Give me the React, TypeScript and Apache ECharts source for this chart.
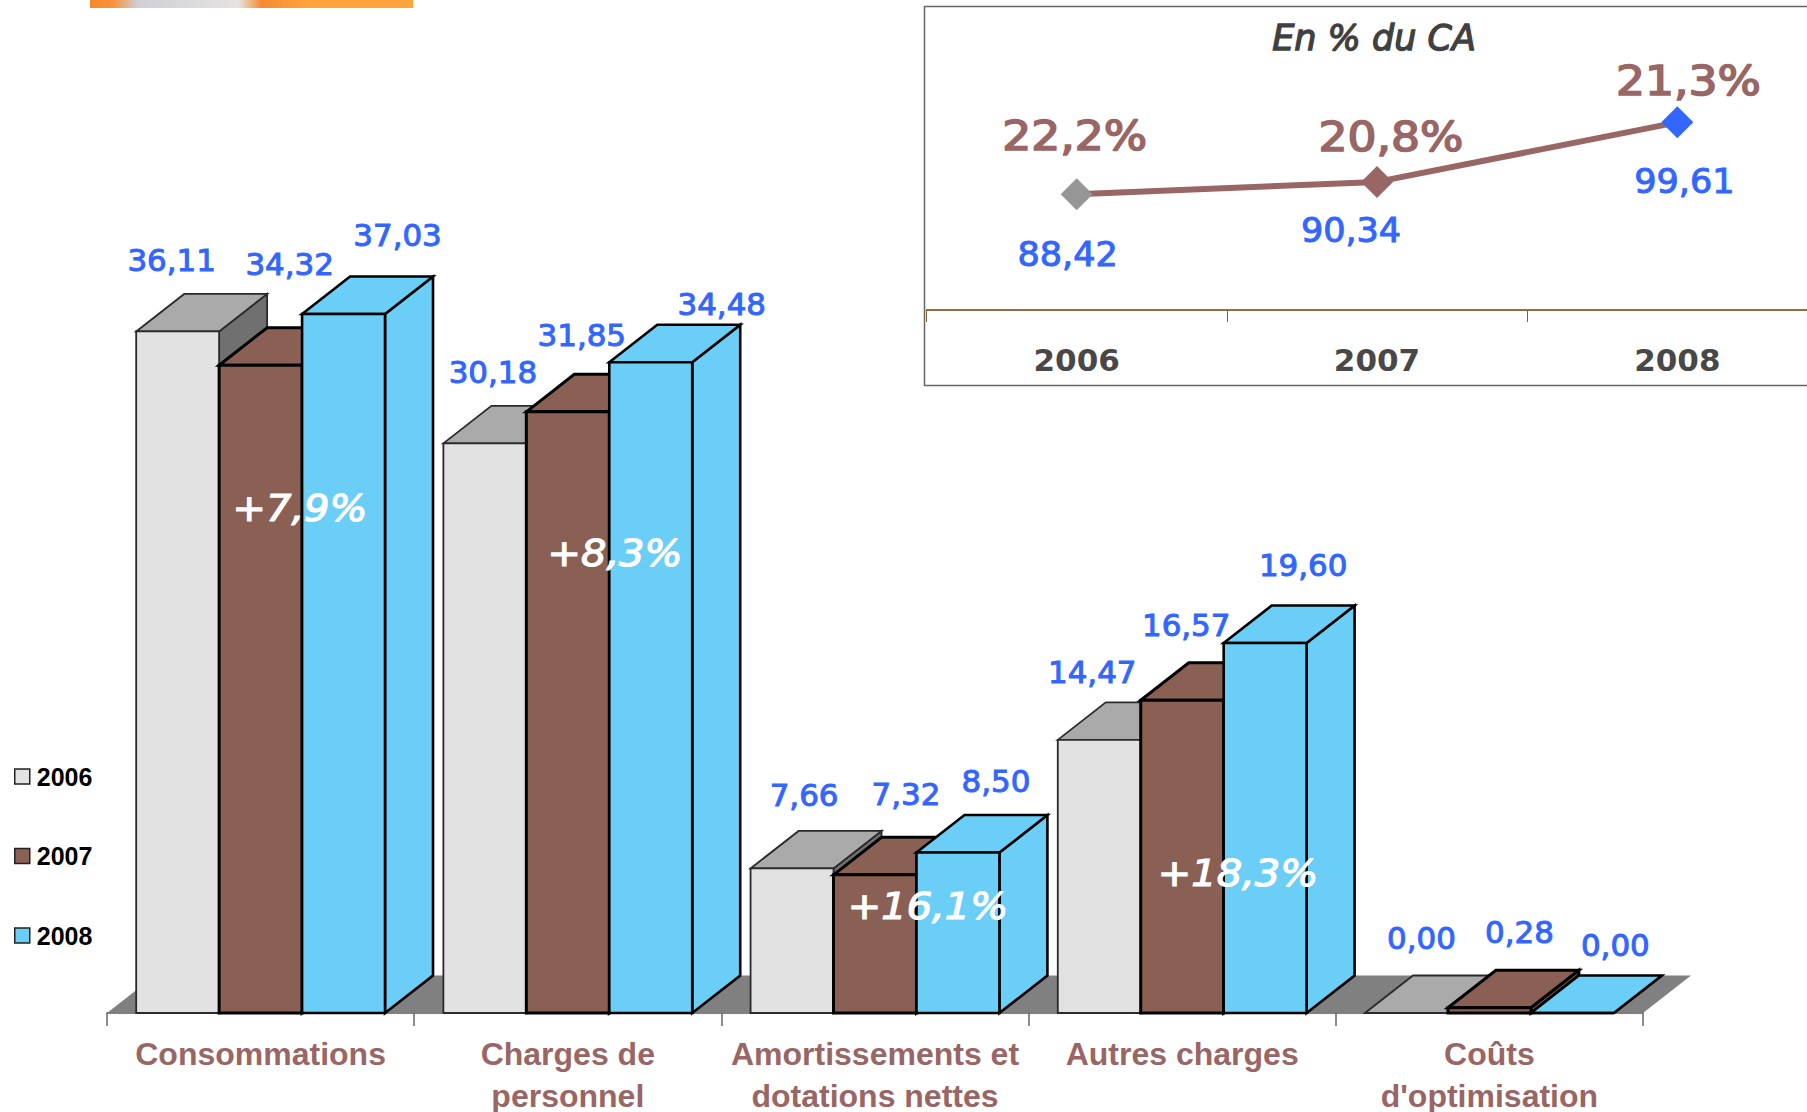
import React, { useEffect, useRef } from "react";
import * as echarts from "echarts";

const categories = ["Consommations", "Charges de\npersonnel", "Amortissements et\ndotations nettes", "Autres charges", "Coûts\nd'optimisation"];
const years = ["2006", "2007", "2008"];
const values2006 = [36.11, 30.18, 7.66, 14.47, 0.0];
const values2007 = [34.32, 31.85, 7.32, 16.57, 0.28];
const values2008 = [37.03, 34.48, 8.5, 19.6, 0.0];
const growth = ["+7,9%", "+8,3%", "+16,1%", "+18,3%"];
const totals = [88.42, 90.34, 99.61];
const shares = ["22,2%", "20,8%", "21,3%"];

const BLUE = "#3366FF";
const MAROON = "#996666";
const DEPTH_X = 48;
const DEPTH_Y = 37.5;
const fr = (v: number) => v.toFixed(2).replace(".", ",");
const DEJAVU = '"DejaVu Sans"';
const LIB = '"Liberation Sans"';

const barStyles = [
  { front: "#E2E2E2", top: "#AAAAAA", side: "#707070", stroke: "#2A2A2A", lw: 1.8 },
  { front: "#8B6054", top: "#8B6054", side: "#8B6054", stroke: "#000000", lw: 3 },
  { front: "#6BCEF7", top: "#6BCEF7", side: "#6BCEF7", stroke: "#000000", lw: 2.6 },
];
// label offset from the top-centre of each bar's front face, [dx, dy]
const labelOffsets: number[][][] = [
  [[-6, -71], [8, -71], [12, -73], [-7, -67], [15, -74]],
  [[29, -101], [14, -76], [31, -80], [4, -75], [30, -75]],
  [[54, -78], [71, -58], [38, -71], [38, -77], [43, -67]],
];
const growthPos = [[300, 508], [615, 553], [928, 906], [1238, 873]];
const shareOffsets = [[-2, -58], [14, -45], [11, -41]];
const totalOffsets = [[-9, 60], [-26, 48], [7, 59]];

function txt(text: string, x: number, y: number, font: string, fill: string, strokeW = 0, scaleX = 1, z?: number) {
  return {
    type: "text", x, y, scaleX, z2: 10, ...(z !== undefined ? { z } : {}),
    style: {
      text, font, fill, align: "center", verticalAlign: "middle",
      ...(strokeW ? { stroke: fill, lineWidth: strokeW } : {}),
    },
  };
}

function barSeries(name: string, values: number[], si: number) {
  const st = barStyles[si];
  return {
    type: "custom", name, coordinateSystem: "cartesian2d", xAxisIndex: 0, yAxisIndex: 0, clip: false,
    encode: { x: 0, y: 1 }, data: values.map((v, i) => [i, v]),
    renderItem: (_p: any, api: any) => {
      const c = api.value(0), v = api.value(1);
      const band = api.size([1, 0])[0];
      const w = band * 0.27;
      const base = api.coord([c, 0]);
      const top = api.coord([c, v]);
      const cx = base[0] + (si - 1) * w;
      const l = cx - w / 2, r = cx + w / 2;
      const b = base[1], t = top[1];
      const face = (pts: number[][], fill: string) => ({
        type: "polygon", shape: { points: pts },
        style: { fill, stroke: st.stroke, lineWidth: st.lw, lineJoin: "miter" },
      });
      const off = labelOffsets[si][c];
      return {
        type: "group",
        children: [
          face([[r, b], [r + DEPTH_X, b - DEPTH_Y], [r + DEPTH_X, t - DEPTH_Y], [r, t]], st.side),
          face([[l, t], [l + DEPTH_X, t - DEPTH_Y], [r + DEPTH_X, t - DEPTH_Y], [r, t]], st.top),
          face([[l, b], [r, b], [r, t], [l, t]], st.front),
          txt(fr(v), cx + off[0], t + off[1], `30px ${DEJAVU}`, BLUE, 1, 1.03),
        ],
      };
    },
  };
}

export default function App() {
  const ref = useRef<HTMLDivElement>(null);
  useEffect(() => {
    const chart = echarts.init(ref.current!, undefined, { renderer: "svg" });
    const option: any = {
      animation: false,
      backgroundColor: "#FFFFFF",
      grid: [
        { left: 107, top: 258, width: 1536, height: 755, containLabel: false, outerBoundsMode: "none" },
        { left: 926.5, top: 53, width: 901, height: 257, containLabel: false, outerBoundsMode: "none" },
      ],
      xAxis: [
        {
          gridIndex: 0, type: "category", data: categories, boundaryGap: true,
          axisLine: { lineStyle: { color: "#555555", width: 1.5 } },
          axisTick: { show: true, length: 13, lineStyle: { color: "#666666", width: 1.5 } },
          axisLabel: {
            interval: 0, margin: 20, hideOverlap: false,
            fontFamily: LIB, fontWeight: "bold", fontSize: 32, lineHeight: 42, color: MAROON,
          },
        },
        {
          gridIndex: 1, type: "category", data: years, boundaryGap: true,
          axisLine: { lineStyle: { color: "#6E4008", width: 1.5 } },
          axisTick: { show: true, length: 12, lineStyle: { color: "#8A6030", width: 1 } },
          axisLabel: {
            interval: 0, margin: 34, hideOverlap: false,
            fontFamily: DEJAVU, fontWeight: "bold", fontSize: 31, color: "#484848",
          },
        },
      ],
      yAxis: [
        { gridIndex: 0, type: "value", min: 0, max: 40, show: false, splitLine: { show: false } },
        { gridIndex: 1, type: "value", min: 70.4, max: 110.4, show: false, splitLine: { show: false } },
      ],
      legend: {
        orient: "vertical", left: 14, top: 764, padding: 0, itemWidth: 15, itemHeight: 15, itemGap: 54.5, selectedMode: false,
        icon: "rect",
        textStyle: { fontFamily: LIB, fontWeight: "bold", fontSize: 25, color: "#000000", padding: [0, 0, 0, 2] },
        data: years.map((y, i) => ({
          name: y, icon: "rect",
          itemStyle: { color: barStyles[i].front, borderColor: "#222222", borderWidth: 1.5 },
        })),
      },
      graphic: [
        {
          type: "rect", z: -1, shape: { x: 90, y: 0, width: 323, height: 8 },
          style: {
            fill: new echarts.graphic.LinearGradient(0, 0, 1, 0, [
              { offset: 0, color: "#F7882B" }, { offset: 0.07, color: "#F8913A" },
              { offset: 0.15, color: "#CFCFD6" }, { offset: 0.46, color: "#E6E4E2" },
              { offset: 0.53, color: "#F58C30" }, { offset: 0.68, color: "#FFA33D" }, { offset: 1, color: "#FFA33D" },
            ]),
          },
        },
        {
          type: "rect", z: -1, shape: { x: 924.5, y: 6.5, width: 1000, height: 379 },
          style: { fill: "#FFFFFF", stroke: "#666666", lineWidth: 1.5 },
        },
        txt("En % du CA", 1374, 38, `italic 35px ${DEJAVU}`, "#404040", 1.3, 1, 100),
        ...growth.map((g, i) => txt(g, growthPos[i][0], growthPos[i][1], `italic 37px ${DEJAVU}`, "#FFFFFF", 1.2, 1.08, 100)),
      ],
      series: [
        {
          type: "custom", name: "floor", coordinateSystem: "cartesian2d", xAxisIndex: 0, yAxisIndex: 0, clip: false,
          encode: { x: 0, y: 1 }, data: [[0, 0]],
          renderItem: (_p: any, api: any) => {
            const band = api.size([1, 0])[0];
            const a = api.coord([0, 0]);
            const e = api.coord([categories.length - 1, 0]);
            const l = a[0] - band / 2, r = e[0] + band / 2, y = a[1];
            return {
              type: "polygon",
              shape: { points: [[l, y], [l + DEPTH_X, y - DEPTH_Y], [r + DEPTH_X, y - DEPTH_Y], [r, y]] },
              style: { fill: "#808080" },
            };
          },
        },
        barSeries("2006", values2006, 0),
        barSeries("2007", values2007, 1),
        barSeries("2008", values2008, 2),
        {
          type: "line", name: "Total", xAxisIndex: 1, yAxisIndex: 1, symbol: "diamond", symbolSize: 32,
          lineStyle: { color: MAROON, width: 6 }, itemStyle: { color: MAROON },
          data: [
            { value: totals[0], itemStyle: { color: "#969696" } },
            { value: totals[1], itemStyle: { color: MAROON } },
            { value: totals[2], itemStyle: { color: BLUE } },
          ],
        },
        {
          type: "custom", name: "insetLabels", coordinateSystem: "cartesian2d", xAxisIndex: 1, yAxisIndex: 1, clip: false,
          encode: { x: 0, y: 1 }, data: totals.map((v, i) => [i, v]),
          renderItem: (_p: any, api: any) => {
            const i = api.value(0), v = api.value(1);
            const p = api.coord([i, v]);
            return {
              type: "group",
              children: [
                txt(shares[i], p[0] + shareOffsets[i][0], p[1] + shareOffsets[i][1], `40px ${DEJAVU}`, MAROON, 1.6, 1.14),
                txt(fr(v), p[0] + totalOffsets[i][0], p[1] + totalOffsets[i][1], `34px ${DEJAVU}`, BLUE, 1, 1.03),
              ],
            };
          },
        },
      ],
    };
    chart.setOption(option);
    return () => chart.dispose();
  }, []);
  return <div ref={ref} style={{ position: "absolute", left: 0, top: 0, width: 1807, height: 1112 }} />;
}
